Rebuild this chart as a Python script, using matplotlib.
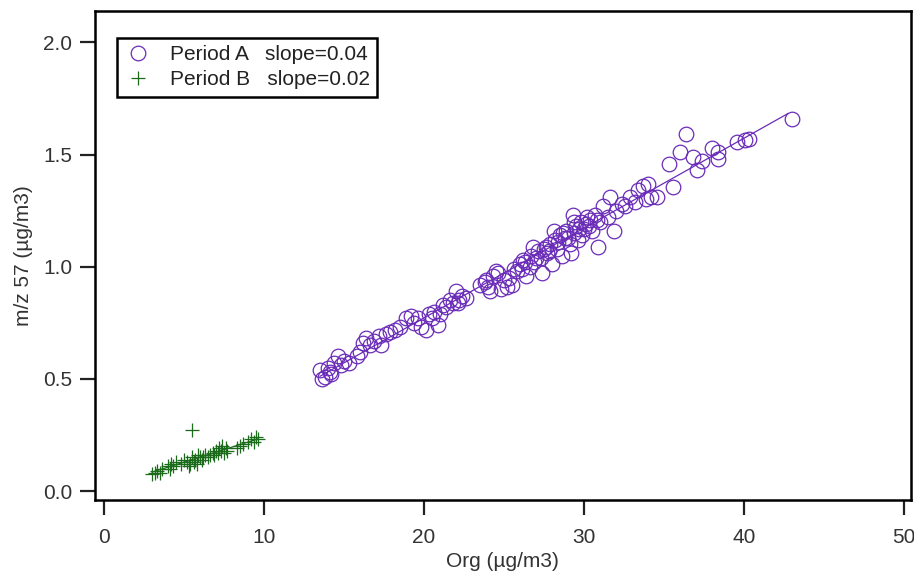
import numpy as np
import matplotlib
matplotlib.use("Agg")
import matplotlib.pyplot as plt

plt.rcParams['font.family'] = ['Liberation Sans', 'DejaVu Sans']

# Period A (purple circles)
a_x = [13.5, 13.6, 13.8, 14.0, 14.2, 14.4, 14.6, 14.8, 15.3, 15.8,
       16.2, 16.4, 16.6, 16.9, 17.2, 17.3, 17.6, 17.9, 18.5, 18.9,
       19.2, 19.4, 19.8, 20.1, 20.3, 20.6, 20.9, 21.2, 21.4, 21.6,
       21.8, 22.0, 22.2, 22.4, 23.5, 23.8, 24.1, 24.3, 24.6, 24.8,
       25.0, 25.3, 25.5, 25.8, 26.0, 26.2, 26.4, 26.6, 26.7, 26.9,
       27.1, 27.3, 27.4, 27.6, 27.7, 27.9, 28.0, 28.2, 28.3, 28.5,
       28.6, 28.8, 28.9, 29.1, 29.2, 29.3, 29.4, 29.5, 29.6, 29.8,
       29.9, 30.1, 30.2, 30.4, 30.5, 30.7, 30.9, 31.0, 31.2, 31.5,
       31.6, 31.9, 32.0, 32.4, 32.6, 32.9, 33.2, 33.4, 33.7, 33.9,
       34.0, 34.2, 34.6, 35.3, 35.6, 36.0, 36.4, 36.8, 37.1, 37.4,
       38.0, 38.4, 38.4, 39.6, 40.1, 40.3, 43.0,
       14.1, 15.0, 16.0, 18.2, 19.6, 21.0, 22.6, 24.0, 25.6, 26.3,
       27.0, 27.8, 28.4, 29.0, 29.7, 30.3, 30.8, 27.5, 28.7, 26.8,
       25.2, 23.9, 22.1, 20.5, 29.4, 30.0, 28.1, 26.1, 24.5]
a_y = [0.54, 0.50, 0.51, 0.55, 0.52, 0.57, 0.60, 0.56, 0.57, 0.60,
       0.66, 0.68, 0.65, 0.67, 0.69, 0.65, 0.70, 0.71, 0.73, 0.77,
       0.78, 0.75, 0.73, 0.72, 0.79, 0.80, 0.74, 0.83, 0.82, 0.85,
       0.84, 0.89, 0.85, 0.87, 0.92, 0.93, 0.89, 0.96, 0.97, 0.90,
       0.94, 0.95, 0.92, 0.98, 1.01, 1.03, 0.96, 1.00, 1.05, 1.02,
       1.07, 1.04, 0.97, 1.09, 1.06, 1.10, 1.01, 1.12, 1.08, 1.14,
       1.05, 1.13, 1.16, 1.10, 1.06, 1.23, 1.15, 1.18, 1.12, 1.20,
       1.14, 1.19, 1.22, 1.21, 1.16, 1.23, 1.09, 1.20, 1.27, 1.22,
       1.31, 1.16, 1.25, 1.28, 1.27, 1.31, 1.29, 1.34, 1.36, 1.30,
       1.37, 1.31, 1.31, 1.46, 1.355, 1.51, 1.59, 1.49, 1.43, 1.47,
       1.53, 1.51, 1.48, 1.556, 1.565, 1.57, 1.66,
       0.53, 0.58, 0.62, 0.72, 0.77, 0.79, 0.86, 0.91, 0.99, 1.02,
       1.04, 1.07, 1.11, 1.13, 1.17, 1.18, 1.21, 1.08, 1.15, 1.09,
       0.91, 0.94, 0.84, 0.77, 1.20, 1.17, 1.16, 0.99, 0.98]

# Period B (green crosses)
b_x = [3.0, 3.2, 3.3, 3.5, 3.6, 4.0, 4.1, 4.2, 4.3, 4.5, 4.8, 5.0,
       5.2, 5.3, 5.4, 5.5, 5.5, 5.6, 5.7, 5.8, 5.9, 6.0, 6.1, 6.2,
       6.3, 6.5, 6.6, 6.8, 6.9, 7.0, 7.1, 7.2, 7.3, 7.4, 7.5, 7.6,
       7.7, 8.3, 8.5, 8.7, 9.0, 9.2, 9.4, 9.5, 9.6]
b_y = [0.075, 0.08, 0.09, 0.08, 0.10, 0.11, 0.10, 0.12, 0.11, 0.13,
       0.12, 0.14, 0.13, 0.11, 0.12, 0.27, 0.15, 0.13, 0.14, 0.12,
       0.16, 0.15, 0.14, 0.15, 0.16, 0.15, 0.16, 0.17, 0.16, 0.18,
       0.17, 0.19, 0.18, 0.20, 0.17, 0.19, 0.18, 0.19, 0.20, 0.21,
       0.22, 0.23, 0.22, 0.24, 0.23]

labels = ["Period A   slope=0.04", "Period B   slope=0.02"]
x_ticks = [0, 10, 20, 30, 40, 50]
y_ticks = [0.0, 0.5, 1.0, 1.5, 2.0]

purple = '#6a2cb8'
green = '#1a6b1a'

fig = plt.figure(figsize=(9.14, 5.73), dpi=100)
ax = fig.add_axes([0.1034, 0.1274, 0.8933, 0.8534])

ax.plot(a_x, a_y, linestyle='none', marker='o', markersize=10.5,
        markerfacecolor='none', markeredgecolor=purple, markeredgewidth=0.9,
        label=labels[0])
ax.plot(b_x, b_y, linestyle='none', marker='+', markersize=10,
        color=green, markeredgewidth=0.9, label=labels[1])

ca = np.polyfit(a_x, a_y, 1)
xa = np.array([min(a_x), 42.75])
ax.plot(xa, np.polyval(ca, xa), color=purple, linewidth=0.9)
cb = np.polyfit(b_x, b_y, 1)
xb = np.array([min(b_x), max(b_x)])
ax.plot(xb, np.polyval(cb, xb), color=green, linewidth=0.9)

ax.set_xlim(-0.6, 50.45)
ax.set_ylim(-0.04, 2.14)
ax.set_xticks(x_ticks)
ax.set_xticklabels([str(t) for t in x_ticks])
ax.set_yticks(y_ticks)
ax.set_yticklabels([f"{t:.1f}" for t in y_ticks])

for s in ax.spines.values():
    s.set_linewidth(1.8)
ax.tick_params(axis='both', direction='out', length=11, width=1.6,
               labelsize=15, colors='#222222', labelcolor='#333333')
ax.tick_params(axis='x', pad=9)
ax.tick_params(axis='y', pad=5)

ax.set_xlabel("Org (µg/m3)", fontsize=15, color='#333333', labelpad=4)
ax.set_ylabel("m/z 57 (µg/m3)", fontsize=15, color='#333333', labelpad=7)

leg = ax.legend(loc='upper left', bbox_to_anchor=(0.0276, 0.945),
                borderaxespad=0, fancybox=False, edgecolor='black',
                fontsize=15, handlelength=1.3, handletextpad=0.9,
                borderpad=0.35, labelspacing=0.3, framealpha=1)
leg.get_frame().set_linewidth(1.8)
for t in leg.get_texts():
    t.set_color('#222222')

fig.savefig("out.png", dpi=100)
